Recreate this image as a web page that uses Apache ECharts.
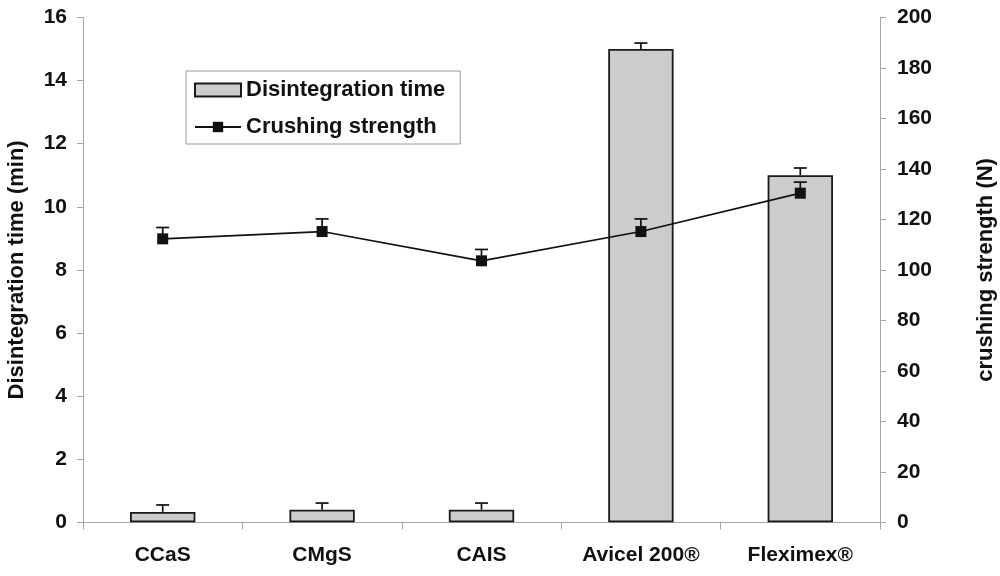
<!DOCTYPE html>
<html>
<head>
<meta charset="utf-8">
<script src="https://cdn.jsdelivr.net/npm/echarts@6/dist/echarts.min.js"></script>
<style>html,body{margin:0;padding:0;background:#fff}#c{width:1000px;height:576px}</style>
</head>
<body>
<div id="c"></div>
<script>
var categories = ['CCaS', 'CMgS', 'CAIS', 'Avicel 200®', 'Fleximex®'];
var disintegration = [0.33, 0.40, 0.40, 15.0, 11.0];
var disintegrationErr = [0.22, 0.21, 0.21, 0.19, 0.23];
var crushing = [112.3, 115.2, 103.6, 115.2, 130.4];
var crushingErr = [4.5, 5.0, 4.5, 5.0, 4.4];
var leftTicks = {min: 0, max: 16, interval: 2};
var rightTicks = {min: 0, max: 200, interval: 20};

var FONT = 'Liberation Sans, Arial, sans-serif';
var axisGray = '#a6a6a6';

function errRender() {
  return function (params, api) {
    var i = api.value(0);
    var v = api.value(1);
    var e = api.value(2);
    var p0 = api.coord([i, v]);
    var p1 = api.coord([i, v + e]);
    var hw = 6.5;
    return {
      type: 'group',
      children: [
        {type: 'line', shape: {x1: p0[0], y1: p0[1], x2: p1[0], y2: p1[1]}, style: {stroke: '#111', lineWidth: 1.7}},
        {type: 'line', shape: {x1: p1[0] - hw, y1: p1[1], x2: p1[0] + hw, y2: p1[1]}, style: {stroke: '#111', lineWidth: 1.7}}
      ]
    };
  };
}

var chart = echarts.init(document.getElementById('c'));
chart.setOption({
  animation: false,
  backgroundColor: '#fff',
  textStyle: {fontFamily: FONT},
  grid: {left: 83, right: 120, top: 17.5, bottom: 53.7, containLabel: false, outerBoundsMode: 'none'},
  legend: {
    left: 186, top: 71,
    orient: 'vertical',
    backgroundColor: '#fff',
    borderColor: '#9a9a9a', borderWidth: 1,
    padding: [7, 15, 5, 8],
    itemGap: 13,
    itemWidth: 46, itemHeight: 13,
    textStyle: {fontFamily: FONT, fontWeight: 'bold', fontSize: 22, color: '#111', lineHeight: 24},
    data: [
      {name: 'Disintegration time', icon: 'rect'},
      {name: 'Crushing strength'}
    ]
  },
  xAxis: [{
    type: 'category',
    data: categories,
    position: 'bottom',
    axisLine: {lineStyle: {color: axisGray, width: 1}},
    axisTick: {show: true, length: 7, lineStyle: {color: axisGray}},
    axisLabel: {fontFamily: FONT, fontWeight: 'bold', fontSize: 21, color: '#111', margin: 22}
  }, {
    type: 'category',
    data: categories,
    position: 'top',
    axisLine: {lineStyle: {color: axisGray, width: 1}},
    axisTick: {show: false},
    axisLabel: {show: false}
  }],
  yAxis: [{
    type: 'value',
    min: leftTicks.min, max: leftTicks.max, interval: leftTicks.interval,
    position: 'left',
    name: 'Disintegration time (min)',
    nameLocation: 'middle',
    nameGap: 55,
    nameTextStyle: {fontFamily: FONT, fontWeight: 'bold', fontSize: 22, color: '#111'},
    axisLine: {show: true, lineStyle: {color: axisGray, width: 1}},
    axisTick: {show: true, length: 6, lineStyle: {color: axisGray}},
    splitLine: {show: false},
    axisLabel: {fontFamily: FONT, fontWeight: 'bold', fontSize: 21, color: '#111', margin: 16}
  }, {
    type: 'value',
    min: rightTicks.min, max: rightTicks.max, interval: rightTicks.interval,
    position: 'right',
    name: 'crushing strength (N)',
    nameLocation: 'middle',
    nameGap: 95,
    nameRotate: 90,
    nameTextStyle: {fontFamily: FONT, fontWeight: 'bold', fontSize: 22, color: '#111'},
    axisLine: {show: true, lineStyle: {color: axisGray, width: 1}},
    axisTick: {show: true, length: 6, lineStyle: {color: axisGray}},
    splitLine: {show: false},
    axisLabel: {fontFamily: FONT, fontWeight: 'bold', fontSize: 21, color: '#111', margin: 17}
  }],
  series: [{
    name: 'Disintegration time',
    type: 'bar',
    yAxisIndex: 0,
    barWidth: '41%',
    data: disintegration,
    itemStyle: {color: '#cccccc', borderColor: '#1a1a1a', borderWidth: 1.8}
  }, {
    name: 'barErr',
    type: 'custom',
    yAxisIndex: 0,
    renderItem: errRender(),
    data: disintegration.map(function (v, i) { return [i, v, disintegrationErr[i]]; }),
    z: 3
  }, {
    name: 'Crushing strength',
    type: 'line',
    yAxisIndex: 1,
    data: crushing,
    symbol: 'rect',
    symbolSize: 11,
    lineStyle: {color: '#111', width: 1.7},
    itemStyle: {color: '#111'},
    z: 5
  }, {
    name: 'lineErr',
    type: 'custom',
    yAxisIndex: 1,
    renderItem: errRender(),
    data: crushing.map(function (v, i) { return [i, v, crushingErr[i]]; }),
    z: 4
  }]
});
</script>
</body>
</html>
